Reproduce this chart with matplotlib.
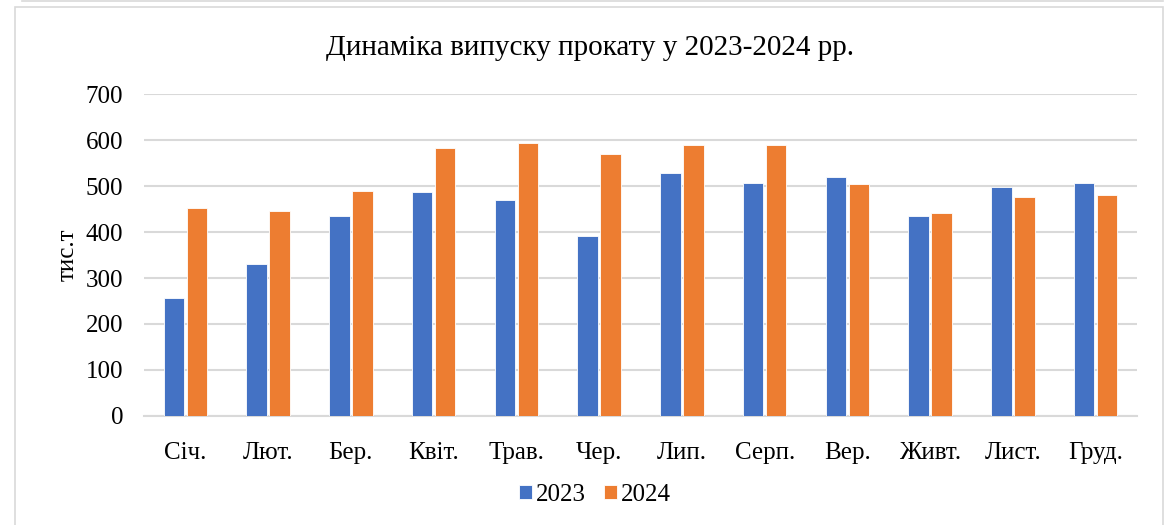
import matplotlib.pyplot as plt
import numpy as np
from matplotlib.patches import Rectangle
from matplotlib.lines import Line2D

# data
months = ['Січ.', 'Лют.', 'Бер.', 'Квіт.', 'Трав.', 'Чер.', 'Лип.', 'Серп.', 'Вер.', 'Живт.', 'Лист.', 'Груд.']
y2023 = [257, 330, 435, 487, 470, 391, 528, 507, 520, 435, 498, 507]
y2024 = [452, 446, 489, 583, 594, 570, 589, 589, 504, 441, 476, 480]

plt.rcParams['font.family'] = ['Liberation Serif', 'DejaVu Serif']

fig = plt.figure(figsize=(11.66, 5.25), dpi=100)
ax = fig.add_axes([144 / 1166, 1 - 416 / 525, (1137 - 144) / 1166, (416 - 94) / 525])

x = np.arange(len(months))
w = 0.245
ax.bar(x - 0.139, y2023, w, color='#4472C4', edgecolor='white', linewidth=0.6, label='2023', zorder=3)
ax.bar(x + 0.139, y2024, w, color='#ED7D31', edgecolor='white', linewidth=0.6, label='2024', zorder=3)

ax.set_xlim(-0.5, len(months) - 0.5)
ax.set_ylim(0, 700)
ax.set_yticks(range(0, 701, 100))
ax.set_xticks(x)
ax.set_xticklabels(months)
ax.tick_params(axis='both', length=0, labelsize=18, colors='black')
ax.tick_params(axis='x', pad=19)
ax.tick_params(axis='y', pad=15)
ax.yaxis.grid(True, color='#D9D9D9', linewidth=1.5, zorder=0)
for s in ['top', 'right', 'left']:
    ax.spines[s].set_visible(False)
ax.spines['bottom'].set_color('#D9D9D9')
ax.spines['bottom'].set_linewidth(1.5)

ax.set_ylabel('тис.т', fontsize=18, labelpad=5)
fig.text(590 / 1166, 1 - 48 / 525, 'Динаміка випуску прокату у 2023-2024 рр.', fontsize=21,
         ha='center', va='center')

leg = fig.legend(loc='center', bbox_to_anchor=(595 / 1166, 1 - 495 / 525), ncol=2, frameon=False,
                 fontsize=18, handlelength=0.5, handleheight=0.5, handletextpad=0.15, columnspacing=0.75)

# chart frame
fig.patches.append(Rectangle((15 / 1166, -0.01), (1163 - 15) / 1166, 1 - 7 / 525 + 0.01,
                             transform=fig.transFigure, fill=False, edgecolor='#D9D9D9', linewidth=1.2))
fig.lines.append(Line2D([22 / 1166, 1163 / 1166], [1 - 0.5 / 525, 1 - 0.5 / 525],
                        transform=fig.transFigure, color='#D9D9D9', linewidth=1.2))

fig.savefig('out.png', dpi=100)
